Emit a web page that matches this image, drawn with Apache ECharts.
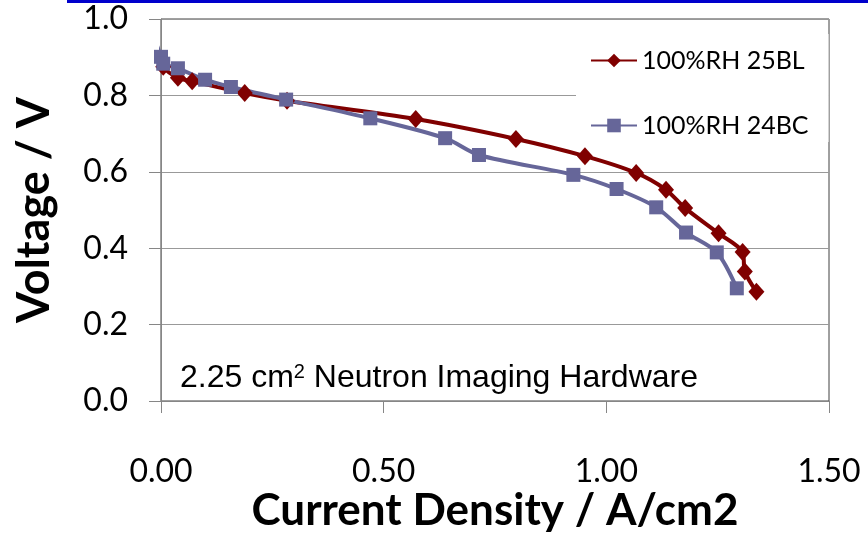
<!DOCTYPE html>
<html>
<head>
<meta charset="utf-8">
<script src="https://cdn.jsdelivr.net/npm/echarts@6/dist/echarts.min.js"></script>
<style type="text/css">
  html, body { margin:0; padding:0; background:#fff; }
</style>
</head>
<body>
<div id="chart" style="width: 868px;height:533px;"></div>
<script type="text/javascript">
// 100%RH 25BL
var bl25X = [-0.010, 0.005, 0.038, 0.070, 0.188, 0.283, 0.572, 0.797, 0.952, 1.067, 1.134, 1.177, 1.252, 1.306, 1.311, 1.337];
var bl25Y = [0.930, 0.875, 0.846, 0.837, 0.806, 0.786, 0.738, 0.686, 0.641, 0.597, 0.553, 0.505, 0.439, 0.390, 0.339, 0.286];
// 100%RH 24BC
var bc24X = [-0.015, 0.000, 0.005, 0.038, 0.099, 0.157, 0.281, 0.470, 0.638, 0.714, 0.926, 1.023, 1.112, 1.179, 1.248, 1.293];
var bc24Y = [0.950, 0.901, 0.883, 0.871, 0.841, 0.822, 0.789, 0.740, 0.688, 0.644, 0.592, 0.555, 0.507, 0.441, 0.389, 0.295];

var seriesNames = ['100%RH 25BL', '100%RH 24BC'];
var xTicks = [0, 0.5, 1.0, 1.5];
var yTicks = [0, 0.2, 0.4, 0.6, 0.8, 1.0];

// first point of each curve is drawn without a marker
function pairs(xs, ys) {
  var out = [];
  for (var i = 0; i < xs.length; i++) {
    if (i == 0) {
      out.push({ value: [xs[i], ys[i]], symbolSize: 0 });
    } else {
      out.push([xs[i], ys[i]]);
    }
  }
  return out;
}

var myChart = echarts.init(document.getElementById('chart'));
myChart.setOption({
  animation: false,
  textStyle: { fontFamily: 'Lato' },
  grid: {
    left: 161, right: 39, top: 19, bottom: 132,
    outerBoundsMode: 'none',
    containLabel: false,
    show: true, borderColor: '#404040', borderWidth: 1
  },
  legend: {
    data: seriesNames,
    orient: 'vertical',
    left: 576, top: 34,
    padding: [14, 20, 4, 14],
    backgroundColor: '#fff',
    itemWidth: 46, itemHeight: 17, itemGap: 40,
    textStyle: { fontSize: 25, color: '#000', fontFamily: 'Lato' }
  },
  xAxis: {
    type: 'value',
    min: xTicks[0], max: xTicks[xTicks.length - 1], interval: 0.5,
    name: 'Current Density / A/cm2',
    nameLocation: 'middle', nameGap: 88,
    nameMoveOverlap: false,
    nameTextStyle: { fontSize: 44, fontWeight: 'bold', color: '#000', fontFamily: 'Lato' },
    axisLine: { lineStyle: { color: '#868686', width: 1 } },
    axisTick: { show: true, inside: false, length: 12, lineStyle: { color: '#868686' } },
    axisLabel: { fontSize: 32, color: '#000', margin: 55, formatter: function (v) { return v.toFixed(2); } },
    splitLine: { show: false }
  },
  yAxis: {
    type: 'value',
    min: yTicks[0], max: yTicks[yTicks.length - 1], interval: 0.2,
    name: 'Voltage / V',
    nameLocation: 'middle', nameGap: 104,
    nameMoveOverlap: false,
    nameTextStyle: { fontSize: 45, fontWeight: 'bold', color: '#000', fontFamily: 'Lato' },
    axisLine: { show: true, lineStyle: { color: '#868686', width: 1 } },
    axisTick: { show: true, inside: false, length: 12, lineStyle: { color: '#868686' } },
    axisLabel: { fontSize: 32, color: '#000', margin: 33, formatter: function (v) { return v.toFixed(1); } },
    splitLine: { show: true, lineStyle: { color: '#999999', width: 1 } }
  },
  graphic: [
    {
      type: 'rect', left: 67, top: 0, z: 100,
      shape: { width: 801, height: 3 },
      style: { fill: '#0000cc' }
    },
    {
      type: 'text', left: 180, top: 362, z: 100,
      style: {
        text: '{a|2.25 cm}{s|2}{a| Neutron Imaging Hardware}',
        rich: {
          a: { fontSize: 32, fontFamily: 'Liberation Sans Narrow, Arial Narrow, Liberation Sans', fill: '#000' },
          s: { fontSize: 20, fontFamily: 'Liberation Sans Narrow, Arial Narrow, Liberation Sans', fill: '#000', verticalAlign: 'top', padding: [0, 0, 12, 0] }
        }
      }
    }
  ],
  series: [
    {
      name: seriesNames[0],
      type: 'line',
      data: pairs(bl25X, bl25Y),
      smooth: 0.3,
      clip: false,
      symbol: 'diamond',
      symbolSize: [16, 18],
      lineStyle: { color: '#800000', width: 4 },
      itemStyle: { color: '#800000' }
    },
    {
      name: seriesNames[1],
      type: 'line',
      data: pairs(bc24X, bc24Y),
      smooth: 0.3,
      clip: false,
      symbol: 'rect',
      symbolSize: 14,
      lineStyle: { color: '#666699', width: 4 },
      itemStyle: { color: '#666699' }
    }
  ]
});
</script>
</body>
</html>
